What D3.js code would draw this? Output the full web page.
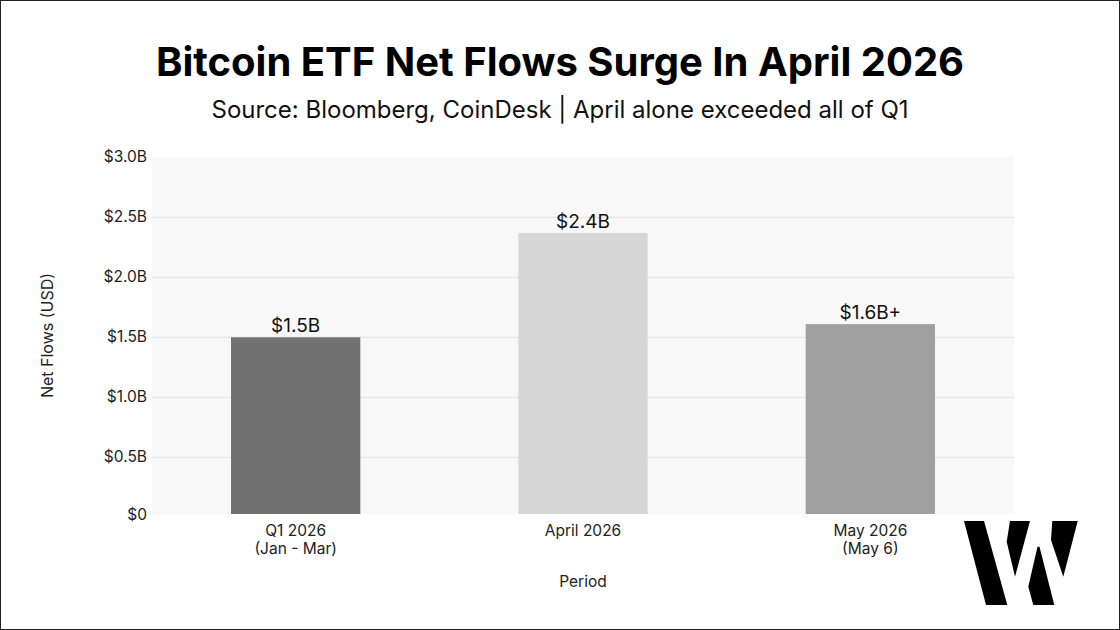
<!DOCTYPE html>
<html><head><meta charset="utf-8">
<script src="https://cdn.jsdelivr.net/npm/d3@7"></script>
<style>body{margin:0;background:#fff}svg{display:block}text{font-family:Inter,"Noto Sans",sans-serif}</style>
</head><body><svg id="c" width="1120" height="630"></svg>
<script>
const categories = ["Q1 2026\n(Jan - Mar)", "April 2026", "May 2026\n(May 6)"];
const values = [1.5, 2.37, 1.61];
const valueLabels = ["$1.5B", "$2.4B", "$1.6B+"];
const barColors = ["#727272", "#d6d6d6", "#a0a0a0"];
const yTicks = [0, 0.5, 1.0, 1.5, 2.0, 2.5, 3.0];
const yTickLabels = ["$0", "$0.5B", "$1.0B", "$1.5B", "$2.0B", "$2.5B", "$3.0B"];

const svg = d3.select("#c");
svg.append("rect").attr("x",0.5).attr("y",0.5).attr("width",1119).attr("height",629).attr("fill","#fff").attr("stroke","#222");

const L=152, R=1014, T=157, B=514;
const x = d3.scaleBand().domain(categories).range([L,R]).paddingInner(0.55).paddingOuter(0.275);
const y = d3.scaleLinear().domain([0,3]).range([517.3,157.3]);

svg.append("rect").attr("x",L).attr("y",T).attr("width",R-L).attr("height",B-T).attr("fill","#f8f8f8");
svg.append("clipPath").attr("id","pc").append("rect").attr("x",L).attr("y",T).attr("width",R-L).attr("height",B-T);

const g = svg.append("g");
g.selectAll("line.grid").data(yTicks.filter(d=>d>0 && d<3)).join("line")
  .attr("x1",L).attr("x2",R).attr("y1",d=>y(d)).attr("y2",d=>y(d))
  .attr("stroke","#e2e2e2").attr("stroke-width",1);

svg.append("g").attr("clip-path","url(#pc)").selectAll("rect").data(values).join("rect")
  .attr("x",(d,i)=>x(categories[i])).attr("width",x.bandwidth())
  .attr("y",d=>y(d)).attr("height",d=>y(0)-y(d)+2)
  .attr("fill",(d,i)=>barColors[i]);

svg.selectAll("text.vl").data(values).join("text").attr("class","vl")
  .attr("x",(d,i)=>x(categories[i])+x.bandwidth()/2).attr("y",d=>y(d)-5)
  .attr("text-anchor","middle").attr("font-size",19).attr("fill","#111")
  .text((d,i)=>valueLabels[i]);

// y axis
const ya = d3.axisLeft(y).tickValues(yTicks).tickFormat((d,i)=>yTickLabels[i]).tickSize(0).tickPadding(5);
const yg = svg.append("g").attr("transform",`translate(${L},0)`).call(ya);
yg.select(".domain").remove();
yg.selectAll("text").attr("font-size",15.5).attr("fill","#222").attr("dy","0.3em").style("font-family","Inter");
yg.selectAll(".tick").filter(d=>d===0).attr("transform",`translate(0,${B+1})`);

// x axis
const xa = d3.axisBottom(x).tickSize(0).tickFormat("");
const xg = svg.append("g").attr("transform",`translate(0,${B})`).call(xa);
xg.select(".domain").remove();
xg.selectAll(".tick").each(function(d){
  const t = d3.select(this).append("text").attr("text-anchor","middle").attr("font-size",15.5).attr("fill","#222").style("font-family","Inter");
  d.split("\n").forEach((s,i)=>t.append("tspan").attr("x",0).attr("y",22+i*18).text(s));
});

svg.append("text").attr("x",(L+R)/2).attr("y",587).attr("text-anchor","middle").attr("font-size",15.5).attr("fill","#222").text("Period");
svg.append("text").attr("transform",`translate(53,${(T+B)/2}) rotate(-90)`).attr("text-anchor","middle").attr("font-size",16).attr("fill","#222").text("Net Flows (USD)");

svg.append("text").attr("x",560).attr("y",76).attr("text-anchor","middle").attr("font-size",40).attr("font-weight",700).attr("fill","#000").text("Bitcoin ETF Net Flows Surge In April 2026");
svg.append("text").attr("x",560).attr("y",118).attr("text-anchor","middle").attr("font-size",24).attr("fill","#111").text("Source: Bloomberg, CoinDesk | April alone exceeded all of Q1");

// logo
const logo = [
  [[964,521],[984,521],[1007.3,605],[986,605]],
  [[1010,521],[1030,521],[1015,576.7],[1006.7,541.7]],
  [[1037.5,546.7],[1039.5,546.7],[1054.3,605],[1033.3,605],[1028.3,586.7]],
  [[1052.3,521],[1077.7,521],[1063.3,576.7],[1051,540]]
];
svg.append("g").selectAll("path").data(logo).join("path").attr("d",d=>d3.line()(d)+"Z").attr("fill","#000");
</script></body></html>
